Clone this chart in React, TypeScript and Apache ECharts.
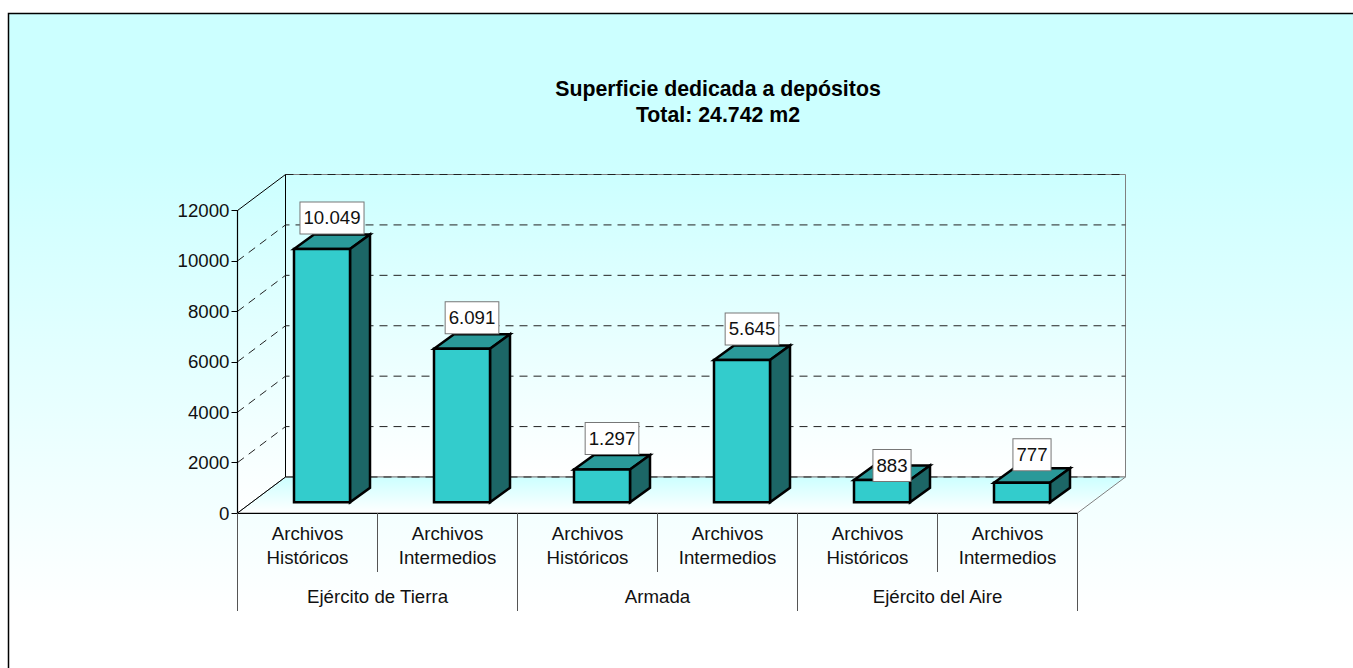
import React, { useEffect, useRef } from "react";
import * as echarts from "echarts";

const categories = [
  "Archivos\nHistóricos",
  "Archivos\nIntermedios",
  "Archivos\nHistóricos",
  "Archivos\nIntermedios",
  "Archivos\nHistóricos",
  "Archivos\nIntermedios",
];
const groups = ["Ejército de Tierra", "Armada", "Ejército del Aire"];
const values = [10049, 6091, 1297, 5645, 883, 777];
const valueLabels = ["10.049", "6.091", "1.297", "5.645", "883", "777"];
const yTicks = [0, 2000, 4000, 6000, 8000, 10000, 12000];
const titleLines = ["Superficie dedicada a depósitos", "Total: 24.742 m2"];

const FONT = '"Liberation Sans", Arial, sans-serif';
const FS = 18.67;
const WALL_DX = 48;
const WALL_DY = 36;
const BAR_W = 56;
const BAR_DX = 20;
const BAR_DY = 14.5;
const BAR_OFF_X = 14.5;
const BAR_OFF_Y = 10.7;
const LABEL_RAISE = [16.5, 16.5, 16.5, 16.5, 0, 13.5];

const vGrad = (top: string, bottom: string) =>
  new echarts.graphic.LinearGradient(0, 0, 0, 1, [
    { offset: 0, color: top },
    { offset: 1, color: bottom },
  ]);

export default function App() {
  const ref = useRef<HTMLDivElement>(null);
  useEffect(() => {
    document.body.style.margin = "0";
    const chart = echarts.init(ref.current!, null, { renderer: "svg" });
    chart.setOption({
      animation: false,
      title: {
        text: titleLines.join("\n"),
        left: 713,
        top: 71,
        textAlign: "center",
        textStyle: { fontFamily: FONT, fontSize: 21.3, fontWeight: "bold", color: "#000", lineHeight: 26 },
      },
      graphic: [
        {
          type: "rect",
          z: -10,
          silent: true,
          shape: { x: 8.5, y: 13.5, width: 1360, height: 670 },
          style: {
            fill: new echarts.graphic.LinearGradient(0, 0, 0, 1, [
              { offset: 0, color: "#CCFFFF" },
              { offset: 0.2, color: "#CCFFFF" },
              { offset: 0.9, color: "#FFFFFF" },
              { offset: 1, color: "#FFFFFF" },
            ]),
            stroke: "#000",
            lineWidth: 1.5,
          },
        },
      ],
      grid: { left: 237.5, right: 1353 - 1077.5, top: 210.5, bottom: 668 - 513, containLabel: false },
      xAxis: [
        {
          type: "category",
          data: categories,
          position: "bottom",
          z: 6,
          axisLine: { show: true, lineStyle: { color: "#000", width: 1.2 } },
          axisTick: { show: true, interval: 0, length: 59, lineStyle: { color: "#555", width: 1 } },
          axisLabel: { interval: 0, margin: 9, fontFamily: FONT, fontSize: FS, lineHeight: 23.5, color: "#111" },
        },
        {
          type: "category",
          data: groups,
          position: "bottom",
          z: 6,
          axisLine: { show: false },
          axisTick: { show: true, interval: 0, length: 98, lineStyle: { color: "#555", width: 1 } },
          axisLabel: { interval: 0, margin: 74, fontFamily: FONT, fontSize: FS, color: "#111" },
        },
      ],
      yAxis: {
        type: "value",
        min: 0,
        max: 12000,
        interval: 2000,
        z: 6,
        axisLine: { show: true, lineStyle: { color: "#000", width: 1.2 } },
        axisTick: { show: true, length: 6, lineStyle: { color: "#000", width: 1 } },
        axisLabel: { margin: 8, fontFamily: FONT, fontSize: FS, color: "#111", formatter: (v: number) => String(v) },
        splitLine: { show: false },
      },
      series: [
        {
          type: "custom",
          name: "walls",
          silent: true,
          z: 1,
          data: [[0, 0]],
          encode: { x: 0, y: 1 },
          renderItem: (params: any) => {
            const { x, y, width, height } = params.coordSys;
            const b = y + height;
            const r = x + width;
            const wallStroke = { stroke: "#808080", lineWidth: 1 };
            return {
              type: "group",
              children: [
                {
                  type: "polygon",
                  shape: { points: [[x, y], [x + WALL_DX, y - WALL_DY], [x + WALL_DX, b - WALL_DY], [x, b]] },
                  style: { fill: vGrad("#CCFFFF", "#FFFFFF") },
                },
                {
                  type: "rect",
                  shape: { x: x + WALL_DX, y: y - WALL_DY, width, height },
                  style: { fill: vGrad("#CCFFFF", "#FFFFFF"), ...wallStroke },
                },
                {
                  type: "polygon",
                  shape: { points: [[x, b], [x + WALL_DX, b - WALL_DY], [r + WALL_DX, b - WALL_DY], [r, b]] },
                  style: { fill: vGrad("#CCFFFF", "#FFFFFF"), ...wallStroke },
                },
                {
                  type: "line",
                  shape: { x1: x, y1: y, x2: x + WALL_DX, y2: y - WALL_DY },
                  style: { stroke: "#000", lineWidth: 1 },
                },
                {
                  type: "line",
                  shape: { x1: x, y1: b, x2: x + WALL_DX, y2: b - WALL_DY },
                  style: { stroke: "#000", lineWidth: 1 },
                },
                {
                  type: "line",
                  shape: { x1: x + WALL_DX, y1: y - WALL_DY, x2: x + WALL_DX, y2: b - WALL_DY },
                  style: { stroke: "#000", lineWidth: 1 },
                },
              ],
            };
          },
        },
        {
          type: "custom",
          name: "grid",
          silent: true,
          z: 2,
          data: yTicks.map((v) => [0, v]),
          encode: { x: 0, y: 1 },
          renderItem: (params: any, api: any) => {
            const { x, width } = params.coordSys;
            const v = api.value(1);
            const yy = api.coord([0, v])[1];
            const isEdge = v === 0 || v === 12000;
            return {
              type: "polyline",
              shape: {
                points: isEdge
                  ? [
                      [x + WALL_DX, yy - WALL_DY],
                      [x + WALL_DX + width, yy - WALL_DY],
                    ]
                  : [
                      [x, yy],
                      [x + WALL_DX, yy - WALL_DY],
                      [x + WALL_DX + width, yy - WALL_DY],
                    ],
              },
              style: { fill: "none", stroke: "#222", lineWidth: 1, lineDash: [8, 6] },
            };
          },
        },
        {
          type: "custom",
          name: "Superficie",
          silent: true,
          z: 3,
          data: values.map((v, i) => [i, v]),
          encode: { x: 0, y: 1 },
          renderItem: (params: any, api: any) => {
            const i = params.dataIndex;
            const [cx, y0] = api.coord([api.value(0), 0]);
            const yv = api.coord([api.value(0), api.value(1)])[1];
            const l = cx - BAR_W / 2 + BAR_OFF_X;
            const r = l + BAR_W;
            const b = y0 - BAR_OFF_Y;
            const t = yv - BAR_OFF_Y;
            const edge = { stroke: "#000", lineWidth: 2.5, lineJoin: "miter" };
            return {
              type: "group",
              children: [
                {
                  type: "polygon",
                  shape: { points: [[l, t], [l + BAR_DX, t - BAR_DY], [r + BAR_DX, t - BAR_DY], [r, t]] },
                  style: { fill: "#2A9999", ...edge },
                },
                {
                  type: "polygon",
                  shape: { points: [[r, t], [r + BAR_DX, t - BAR_DY], [r + BAR_DX, b - BAR_DY], [r, b]] },
                  style: { fill: "#1C6666", ...edge },
                },
                {
                  type: "rect",
                  shape: { x: l, y: t, width: BAR_W, height: b - t },
                  style: { fill: "#33CCCC", ...edge },
                },
                {
                  type: "text",
                  style: {
                    text: valueLabels[i],
                    x: l + (BAR_W + BAR_DX) / 2,
                    y: t - BAR_DY - LABEL_RAISE[i],
                    align: "center",
                    verticalAlign: "middle",
                    fontFamily: FONT,
                    fontSize: FS,
                    lineHeight: 21,
                    fill: "#111",
                    backgroundColor: "#fff",
                    borderColor: "#777",
                    borderWidth: 1,
                    padding: [5, 3, 5, 3],
                  },
                },
              ],
            };
          },
        },
      ],
    });
    return () => chart.dispose();
  }, []);
  return <div ref={ref} style={{ position: "absolute", left: 0, top: 0, width: 1353, height: 668 }} />;
}
